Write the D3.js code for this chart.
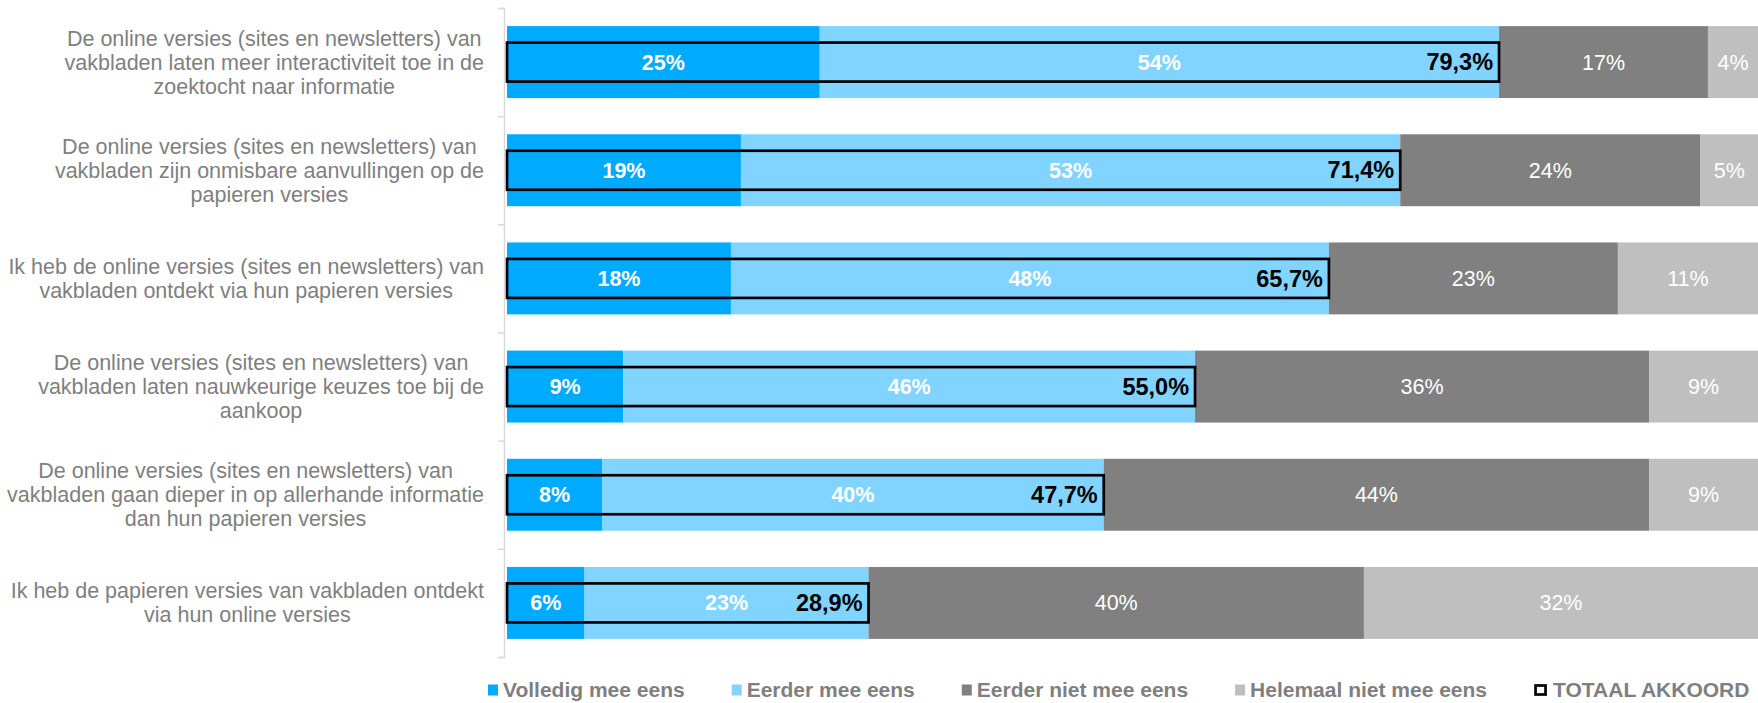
<!DOCTYPE html>
<html>
<head>
<meta charset="utf-8">
<script src="https://cdn.jsdelivr.net/npm/d3@7"></script>
<style>
  body { margin: 0; background: #fff; }
  svg text { font-family: "Liberation Sans", Arial, sans-serif; }
</style>
</head>
<body>
<div id="chart"></div>
<script>
// Stacked horizontal bars, agreement with statements on online trade magazines

////////////////////////////////////////////////////////////////////////
// Data

// each statement is kept as its wrapped lines
let categories = [
  ["De online versies (sites en newsletters) van", "vakbladen laten meer interactiviteit toe in de", "zoektocht naar informatie"],
  ["De online versies (sites en newsletters) van", "vakbladen zijn onmisbare aanvullingen op de", "papieren versies"],
  ["Ik heb de online versies (sites en newsletters) van", "vakbladen ontdekt via hun papieren versies"],
  ["De online versies (sites en newsletters) van", "vakbladen laten nauwkeurige keuzes toe bij de", "aankoop"],
  ["De online versies (sites en newsletters) van", "vakbladen gaan dieper in op allerhande informatie", "dan hun papieren versies"],
  ["Ik heb de papieren versies van vakbladen ontdekt", "via hun online versies"]
];

let seriesNames = ["Volledig mee eens", "Eerder mee eens", "Eerder niet mee eens", "Helemaal niet mee eens"];

let volledig   = [25.0, 18.7, 17.9, 9.3, 7.6, 6.2];
let eerder     = [54.3, 52.7, 47.8, 45.7, 40.1, 22.7];
let eerderNiet = [16.7, 24.0, 23.1, 36.3, 43.6, 39.6];
let helemaal   = [4.0, 4.6, 11.2, 8.7, 8.7, 31.5];

let totaalLabels = ["79,3%", "71,4%", "65,7%", "55,0%", "47,7%", "28,9%"];
let totaalValues = [79.3, 71.4, 65.7, 55.0, 47.7, 28.9];

let totaalName = "TOTAAL AKKOORD";

let colors = ["#00aaff", "#80d4ff", "#808080", "#bfbfbf"];

////////////////////////////////////////////////////////////////////////
// Layout

let width = 1758;
let height = 703;
let fontSize = 21.5;

let svg = d3.select("#chart")
  .append("svg")
  .attr("width", width)
  .attr("height", height);

let xScale = d3.scaleLinear().domain([0, 100]).range([507, 1758]);
let yScale = d3.scaleBand()
  .domain(d3.range(categories.length))
  .range([8, 657])
  .paddingInner(0.335)
  .paddingOuter(0.1675);

// stack the four series
let rows = categories.map((c, i) => ({
  i: i,
  v1: volledig[i], v2: eerder[i], v3: eerderNiet[i], v4: helemaal[i]
}));
let stack = d3.stack().keys(["v1", "v2", "v3", "v4"]);
let layers = stack(rows);

// bars
let layerG = svg.append("g")
  .selectAll("g")
  .data(layers)
  .join("g")
  .attr("fill", (d, k) => colors[k]);

layerG.selectAll("rect")
  .data(d => d)
  .join("rect")
  .attr("x", d => xScale(d[0]))
  .attr("y", d => yScale(d.data.i))
  .attr("width", d => xScale(d[1]) - xScale(d[0]))
  .attr("height", yScale.bandwidth());

// segment labels
layerG.selectAll("text")
  .data((d, k) => d.map(p => ({ p: p, k: k })))
  .join("text")
  .attr("x", d => (xScale(d.p[0]) + xScale(d.p[1])) / 2)
  .attr("y", d => yScale(d.p.data.i) + yScale.bandwidth() / 2)
  .attr("dy", "0.35em")
  .attr("text-anchor", "middle")
  .attr("fill", "#fff")
  .style("font-size", fontSize + "px")
  .style("font-weight", d => d.k < 2 ? "bold" : "normal")
  .text(d => Math.round(d.p[1] - d.p[0]) + "%");

// total agreement boxes
let boxH = 39;
svg.append("g")
  .selectAll("rect")
  .data(totaalValues)
  .join("rect")
  .attr("x", xScale(0))
  .attr("y", (d, i) => yScale(i) + yScale.bandwidth() / 2 - boxH / 2)
  .attr("width", d => xScale(d) - xScale(0))
  .attr("height", boxH)
  .attr("fill", "none")
  .attr("stroke", "#000")
  .attr("stroke-width", 2.7);

svg.append("g")
  .selectAll("text")
  .data(totaalValues)
  .join("text")
  .attr("x", d => xScale(d) - 6)
  .attr("y", (d, i) => yScale(i) + yScale.bandwidth() / 2)
  .attr("dy", "0.35em")
  .attr("text-anchor", "end")
  .attr("fill", "#000")
  .style("font-size", "23.5px")
  .style("font-weight", "bold")
  .text((d, i) => totaalLabels[i]);

// category axis, ticks between categories
let boundScale = d3.scaleLinear().domain([0, categories.length]).range([8, 657]);
svg.append("g")
  .attr("transform", `translate(${xScale(0) - 3},0)`)
  .call(d3.axisLeft(boundScale).ticks(categories.length).tickFormat("").tickSize(6).tickSizeOuter(6))
  .call(g => g.selectAll("path, line").attr("stroke", "#d9d9d9").attr("stroke-width", 1.5));

// category labels: lines centred in a block, block pushed against the axis
let lineH = 24;
let labelRight = 484;
let labels = svg.append("g")
  .selectAll("text")
  .data(categories)
  .join("text")
  .attr("text-anchor", "middle")
  .attr("fill", "#7f7f7f")
  .style("font-size", fontSize + "px");

labels.selectAll("tspan")
  .data(d => d)
  .join("tspan")
  .attr("x", 0)
  .attr("y", (d, j) => j * lineH)
  .attr("dy", "0.35em")
  .text(d => d);

labels.each(function(d, i) {
  let maxW = d3.max(d3.select(this).selectAll("tspan").nodes(), n => n.getComputedTextLength());
  let cy = yScale(i) + yScale.bandwidth() / 2 - (d.length - 1) * lineH / 2;
  d3.select(this).attr("transform", `translate(${labelRight - maxW / 2},${cy})`);
});

// legend, items one after the other with an even gap
let legendY = 690;
let legendFont = 21;
let legendGap = 47;
let legendItems = seriesNames.map((n, k) => ({ name: n, color: colors[k], box: false }))
  .concat([{ name: totaalName, color: "none", box: true }]);

let leg = svg.append("g")
  .selectAll("g")
  .data(legendItems)
  .join("g");

leg.append("rect")
  .attr("x", d => d.box ? 1.5 : 0)
  .attr("y", d => d.box ? -4.5 : -5.5)
  .attr("width", 10)
  .attr("height", d => d.box ? 9 : 11)
  .attr("fill", d => d.color)
  .attr("stroke", d => d.box ? "#000" : "none")
  .attr("stroke-width", 2.7);

leg.append("text")
  .attr("x", d => d.box ? 19 : 15)
  .attr("dy", "0.35em")
  .attr("fill", "#7f7f7f")
  .style("font-size", legendFont + "px")
  .style("font-weight", "bold")
  .text(d => d.name);

let legX = 488;
leg.each(function() {
  let g = d3.select(this);
  g.attr("transform", `translate(${legX},${legendY})`);
  let t = g.select("text");
  legX += +t.attr("x") + t.node().getComputedTextLength() + legendGap;
});
</script>
</body>
</html>
